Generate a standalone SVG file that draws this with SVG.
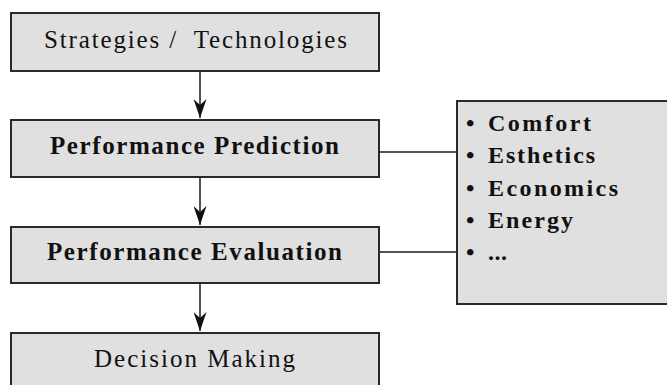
<svg xmlns="http://www.w3.org/2000/svg" width="667" height="385" viewBox="0 0 667 385">
<style>
.box{fill:#e0e0e0;stroke:#2a2a2a;stroke-width:2}
.t{font-family:"Liberation Serif","Times New Roman",serif;font-size:25px;fill:#111}
.b{font-weight:bold}
.c{stroke:#1a1a1a;stroke-width:1.5;fill:none}
.l{font-family:"Liberation Serif","Times New Roman",serif;font-size:24px;font-weight:bold;fill:#111}
</style>
<defs>
<marker id="ah" viewBox="0 0 20 13" refX="19" refY="6.5" markerWidth="20" markerHeight="13" markerUnits="userSpaceOnUse" orient="auto">
<path d="M0 0 L6 6.5 L0 13 L19 6.5 Z" fill="#111"/>
</marker>
</defs>
<rect width="667" height="385" fill="#fff"/>
<g id="connectors">
<line class="c" x1="200" y1="71" x2="200" y2="118" marker-end="url(#ah)"/>
<line class="c" x1="200" y1="177" x2="200" y2="225" marker-end="url(#ah)"/>
<line class="c" x1="200" y1="283" x2="200" y2="331" marker-end="url(#ah)"/>
<line class="c" x1="379" y1="152" x2="457" y2="152"/>
<line class="c" x1="379" y1="252" x2="457" y2="252"/>
</g>
<g id="strategies">
<rect class="box" x="11" y="13" width="368" height="58"/>
<text class="t" x="44" y="48" textLength="303" lengthAdjust="spacing">Strategies /&#160; Technologies</text>
</g>
<g id="prediction">
<rect class="box" x="11" y="120" width="368" height="57"/>
<text class="t b" x="50" y="154" textLength="289" lengthAdjust="spacing">Performance Prediction</text>
</g>
<g id="evaluation">
<rect class="box" x="11" y="227" width="368" height="56"/>
<text class="t b" x="47" y="260" textLength="295" lengthAdjust="spacing">Performance Evaluation</text>
</g>
<g id="decision">
<rect class="box" x="11" y="333" width="368" height="60"/>
<text class="t" x="94" y="367" textLength="201" lengthAdjust="spacing">Decision Making</text>
</g>
<g id="criteria">
<rect class="box" x="457" y="101" width="215" height="203"/>
<g class="l">
<text x="466" y="131">•</text><text x="488" y="131" textLength="103" lengthAdjust="spacing">Comfort</text>
<text x="466" y="163">•</text><text x="488" y="163" textLength="107" lengthAdjust="spacing">Esthetics</text>
<text x="466" y="196">•</text><text x="488" y="196" textLength="130" lengthAdjust="spacing">Economics</text>
<text x="466" y="228">•</text><text x="488" y="228" textLength="85" lengthAdjust="spacing">Energy</text>
<text x="466" y="260">•</text><text x="488" y="260" textLength="19" lengthAdjust="spacing">...</text>
</g>
</g>
</svg>
